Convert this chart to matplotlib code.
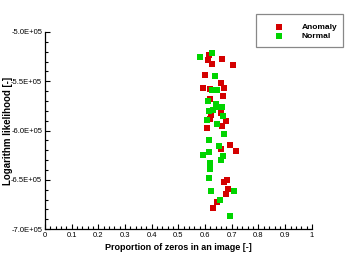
#!/usr/bin/env python3
import matplotlib
matplotlib.use('Agg')
import matplotlib.pyplot as plt
import matplotlib.ticker as mtick
from matplotlib.patches import Rectangle

plt.rcParams['font.family'] = ['Liberation Sans', 'DejaVu Sans']

# data
anomaly_x = [0.615, 0.609, 0.662, 0.627, 0.703, 0.598, 0.661, 0.592, 0.618, 0.670,
             0.667, 0.618, 0.659, 0.622, 0.619, 0.677, 0.663, 0.606, 0.695, 0.659,
             0.715, 0.681, 0.669, 0.687, 0.677, 0.643, 0.628]
anomaly_y = [-5.234e5, -5.284e5, -5.277e5, -5.328e5, -5.337e5, -5.440e5, -5.513e5, -5.569e5, -5.582e5, -5.571e5,
             -5.645e5, -5.683e5, -5.825e5, -5.843e5, -5.878e5, -5.904e5, -5.958e5, -5.978e5, -6.144e5, -6.183e5,
             -6.211e5, -6.500e5, -6.523e5, -6.591e5, -6.645e5, -6.723e5, -6.787e5]
normal_x = [0.626, 0.582, 0.638, 0.627, 0.645, 0.610, 0.642, 0.664, 0.649, 0.615,
            0.628, 0.667, 0.606, 0.644, 0.672, 0.613, 0.652, 0.614, 0.593, 0.668,
            0.659, 0.617, 0.618, 0.614, 0.621, 0.709, 0.657, 0.693]
normal_y = [-5.210e5, -5.251e5, -5.444e5, -5.586e5, -5.586e5, -5.697e5, -5.731e5, -5.756e5, -5.764e5, -5.799e5,
            -5.792e5, -5.853e5, -5.896e5, -5.931e5, -6.032e5, -6.096e5, -6.154e5, -6.221e5, -6.249e5, -6.256e5,
            -6.300e5, -6.327e5, -6.394e5, -6.479e5, -6.617e5, -6.617e5, -6.703e5, -6.865e5]

fig = plt.figure(figsize=(3.54, 2.58), dpi=100)
ax = fig.add_axes([0.127, 0.112, 0.754, 0.764])

a = ax.scatter(anomaly_x, anomaly_y, s=20, marker='s', color='#d40000', linewidths=0, label='Anomaly')
n = ax.scatter(normal_x, normal_y, s=20, marker='s', color='#00d400', linewidths=0, label='Normal')

ax.set_xlim(0, 1)
ax.set_ylim(-7.0e5, -5.0e5)
ax.xaxis.set_major_locator(mtick.MultipleLocator(0.1))
ax.xaxis.set_minor_locator(mtick.MultipleLocator(0.02))
ax.yaxis.set_major_locator(mtick.MultipleLocator(0.5e5))
ax.yaxis.set_minor_locator(mtick.MultipleLocator(0.1e5))
ax.xaxis.set_major_formatter(mtick.FuncFormatter(lambda v, p: '{:g}'.format(round(v, 2))))
ax.yaxis.set_major_formatter(mtick.FuncFormatter(lambda v, p: '{:.1E}'.format(v)))
ax.tick_params(which='both', direction='in', labelsize=5.5, width=0.8, pad=2)
ax.tick_params(which='major', length=3.5)
ax.tick_params(which='minor', length=2)
ax.spines['top'].set_visible(False)
ax.spines['right'].set_visible(False)
for s in ('left', 'bottom'):
    ax.spines[s].set_linewidth(0.9)

ax.set_xlabel('Proportion of zeros in an image [-]', fontsize=6.5, weight='bold', labelpad=3)
ax.set_ylabel('Logarithm likelihood [-]', fontsize=7, weight='bold', va='center')
ax.yaxis.set_label_coords(-0.139, 0.5)

# legend box
fig.patches.append(Rectangle((0.723, 0.818), 0.246, 0.128, transform=fig.transFigure,
                             fill=False, edgecolor='#888888', linewidth=0.9))
fig.legend(handles=[a, n], loc='upper left', bbox_to_anchor=(0.765, 0.925), frameon=False,
           prop={'size': 6, 'weight': 'bold'}, handlelength=1.0, handletextpad=2.2,
           labelspacing=0.15, borderpad=0, scatterpoints=1)

plt.savefig('out.png', dpi=100)
